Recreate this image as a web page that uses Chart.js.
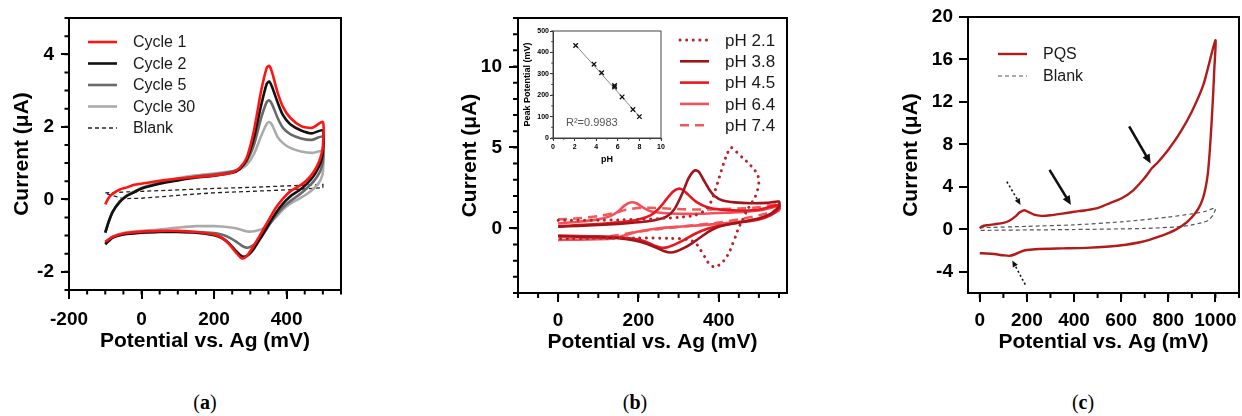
<!DOCTYPE html>
<html>
<head>
<meta charset="utf-8">
<script src="https://cdn.jsdelivr.net/npm/chart.js@4.4.1/dist/chart.umd.min.js"></script>
<style>
  body { margin: 0; background: #fff; }
  #fig { position: relative; width: 1242px; height: 416px; overflow: hidden; }
  canvas { position: absolute; }
  .tag { position: absolute; top: 391px; width: 40px; margin-left: -20px; text-align: center;
         font: 20px "Liberation Serif", "DejaVu Serif", serif; color: #000; }
</style>
</head>
<body>
<div id="fig">
  <canvas id="ca" width="420" height="360" style="left:0;top:0"></canvas>
  <canvas id="cb" width="400" height="360" style="left:420px;top:0"></canvas>
  <canvas id="cin" width="155" height="145" style="left:515px;top:25px"></canvas>
  <canvas id="cc" width="422" height="360" style="left:820px;top:0"></canvas>
  <div class="tag" style="left:205px">(<b>a</b>)</div>
  <div class="tag" style="left:635px">(<b>b</b>)</div>
  <div class="tag" style="left:1083px">(<b>c</b>)</div>
</div>
<script>
// ---- panel (a): cycles, shared potential sweep (forward then reverse)
const potA = [-100, -90, -80, -60, -40, -20, 0, 50, 100, 150, 200, 250, 270, 290, 310, 330, 345, 352, 360, 375, 390, 410, 440, 470, 500,
  500, 497, 490, 475, 455, 435, 410, 390, 370, 350, 330, 310, 295, 285, 275, 260, 240, 220, 200, 150, 100, 50, 0, -50, -80, -100];
const cycle1 = [-0.14, 0.05, 0.15, 0.27, 0.33, 0.4, 0.43, 0.51, 0.57, 0.62, 0.66, 0.74, 0.86, 1.15, 1.9, 3.0, 3.62, 3.68, 3.5, 2.95, 2.55, 2.25, 2.02, 1.97, 2.13,
  1.45, 1.28, 1.05, 0.76, 0.52, 0.37, 0.22, 0.02, -0.24, -0.58, -0.93, -1.27, -1.5, -1.61, -1.62, -1.46, -1.22, -1.05, -0.97, -0.9, -0.87, -0.87, -0.89, -0.94, -1.04, -1.17];
const cycle2 = [-0.92, -0.6, -0.35, -0.07, 0.1, 0.2, 0.3, 0.43, 0.52, 0.6, 0.65, 0.73, 0.83, 1.1, 1.7, 2.6, 3.18, 3.25, 3.1, 2.68, 2.32, 2.07, 1.9, 1.82, 1.9,
  1.3, 1.12, 0.92, 0.65, 0.42, 0.25, 0.08, -0.12, -0.38, -0.7, -1.04, -1.36, -1.53, -1.58, -1.56, -1.42, -1.2, -1.06, -0.99, -0.92, -0.9, -0.9, -0.92, -0.97, -1.06, -1.24];
const cycle5 = [-0.92, -0.6, -0.35, -0.07, 0.1, 0.2, 0.3, 0.45, 0.55, 0.63, 0.69, 0.77, 0.85, 1.05, 1.5, 2.25, 2.68, 2.73, 2.62, 2.25, 1.97, 1.8, 1.68, 1.64, 1.73,
  1.05, 0.9, 0.72, 0.5, 0.3, 0.13, -0.05, -0.22, -0.45, -0.74, -1.04, -1.25, -1.33, -1.32, -1.27, -1.16, -1.04, -0.97, -0.93, -0.9, -0.89, -0.89, -0.91, -0.96, -1.05, -1.22];
const cycle30 = [-0.9, -0.6, -0.35, -0.05, 0.12, 0.22, 0.32, 0.47, 0.58, 0.66, 0.71, 0.77, 0.82, 0.95, 1.25, 1.75, 2.08, 2.13, 2.05, 1.72, 1.55, 1.42, 1.32, 1.28, 1.32,
  0.75, 0.62, 0.47, 0.3, 0.14, 0.02, -0.12, -0.28, -0.5, -0.7, -0.83, -0.88, -0.89, -0.87, -0.84, -0.8, -0.77, -0.75, -0.74, -0.74, -0.78, -0.83, -0.87, -0.93, -1.03, -1.2];
const blankAE = [-100, 0, 100, 200, 300, 400, 500, 500, 400, 300, 200, 100, 0, -50, -100];
const blankAI = [0.18, 0.22, 0.26, 0.3, 0.33, 0.37, 0.41, 0.32, 0.26, 0.22, 0.18, 0.11, 0.03, 0.02, 0.16];

// ---- panel (b): pH series
const ph21E = [0, 50, 100, 150, 200, 250, 300, 340, 365, 380, 392, 402, 412, 421, 430, 445, 460, 475, 488, 497,
  500, 497, 490, 480, 468, 458, 449, 442, 434, 426, 416, 405, 390, 376, 366, 355, 342, 320, 280, 200, 100, 0];
const ph21I = [0.5, 0.5, 0.5, 0.52, 0.55, 0.6, 0.68, 0.8, 1.1, 1.6, 2.4, 3.2, 4.0, 4.6, 5.0, 4.7, 4.35, 4.0, 3.65, 3.3,
  2.9, 2.4, 1.9, 1.5, 1.0, 0.45, 0.0, -0.5, -1.0, -1.5, -1.9, -2.2, -2.4, -2.2, -1.8, -1.35, -0.9, -0.68, -0.62, -0.6, -0.62, -0.65];
const ph38E = [0, 50, 100, 150, 200, 240, 270, 290, 310, 325, 340, 350, 362, 375, 390, 410, 440, 480, 520, 550,
  550, 530, 500, 460, 420, 395, 375, 355, 335, 315, 295, 280, 265, 245, 220, 190, 150, 100, 50, 0];
const ph38I = [0.1, 0.15, 0.2, 0.27, 0.37, 0.5, 0.72, 1.2, 2.2, 3.1, 3.58, 3.5, 3.0, 2.45, 1.98, 1.72, 1.6, 1.55, 1.57, 1.65,
  1.35, 0.9, 0.6, 0.4, 0.22, 0.05, -0.2, -0.55, -0.9, -1.2, -1.42, -1.5, -1.42, -1.2, -0.95, -0.75, -0.62, -0.55, -0.52, -0.5];
const ph45E = [0, 50, 100, 150, 200, 230, 250, 270, 285, 300, 312, 325, 345, 370, 400, 450, 500, 550,
  550, 530, 500, 450, 400, 370, 340, 315, 295, 275, 258, 242, 225, 200, 150, 100, 50, 0];
const ph45I = [0.12, 0.2, 0.27, 0.37, 0.55, 0.8, 1.2, 1.8, 2.25, 2.45, 2.35, 2.05, 1.62, 1.32, 1.17, 1.1, 1.15, 1.45,
  1.2, 0.82, 0.55, 0.35, 0.15, -0.05, -0.35, -0.7, -0.95, -1.15, -1.2, -1.1, -0.9, -0.7, -0.55, -0.5, -0.48, -0.45];
const ph64E = [0, 50, 100, 130, 150, 165, 180, 195, 210, 230, 260, 300, 350, 400, 450, 500, 550,
  550, 500, 450, 400, 350, 300, 250, 200, 170, 150, 130, 100, 50, 0];
const ph64I = [0.3, 0.4, 0.55, 0.75, 1.05, 1.4, 1.6, 1.55, 1.3, 1.05, 0.95, 0.9, 0.9, 0.95, 1.0, 1.1, 1.35,
  1.1, 0.6, 0.4, 0.28, 0.18, 0.1, 0.0, -0.2, -0.4, -0.55, -0.65, -0.68, -0.7, -0.72];
const ph74E = [0, 50, 100, 140, 170, 200, 230, 270, 320, 380, 450, 500, 550,
  550, 500, 450, 400, 350, 300, 250, 200, 150, 100, 50, 0];
const ph74I = [0.55, 0.62, 0.75, 0.95, 1.15, 1.25, 1.27, 1.22, 1.17, 1.17, 1.22, 1.3, 1.5,
  1.2, 0.8, 0.55, 0.35, 0.22, 0.08, -0.05, -0.2, -0.42, -0.58, -0.67, -0.72];

// inset: peak potential vs pH
const insetPH = [2.1, 3.8, 4.5, 5.7, 5.7, 6.4, 7.4, 8.0];
const insetPeak = [432, 345, 305, 245, 238, 192, 133, 100];
const fitPH = [2.1, 8.0];
const fitPeak = [434, 101];

// ---- panel (c): PQS
const pqsE = [0, 10, 30, 60, 100, 125, 150, 170, 188, 205, 230, 260, 300, 350, 400, 450, 500, 550, 600, 650, 700, 730, 755, 800, 850, 900, 950, 1000,
  995, 990, 983, 976, 968, 958, 945, 930, 910, 887, 860, 830, 800, 760, 720, 680, 620, 550, 450, 350, 250, 200, 175, 150, 125, 100, 50, 0];
const pqsI = [0.1, 0.28, 0.38, 0.47, 0.6, 0.8, 1.2, 1.6, 1.8, 1.65, 1.38, 1.27, 1.32, 1.48, 1.65, 1.8, 2.0, 2.45, 2.9, 3.65, 4.85, 5.75, 6.3, 7.5, 9.1, 11.1, 13.7, 17.8,
  15.0, 12.6, 9.8, 7.4, 5.3, 3.9, 2.8, 2.05, 1.4, 0.85, 0.35, -0.05, -0.35, -0.7, -1.0, -1.22, -1.45, -1.62, -1.75, -1.8, -1.85, -1.95, -2.1, -2.35, -2.5, -2.45, -2.3, -2.25];
const blankCE = [0, 200, 400, 600, 800, 900, 950, 1000, 990, 970, 940, 900, 850, 700, 400, 0];
const blankCI = [0.15, 0.28, 0.42, 0.7, 1.15, 1.45, 1.65, 2.0, 1.35, 0.85, 0.6, 0.42, 0.25, 0.08, -0.02, -0.1];
// arrows (start / end in mV, µA)
const arrowFromE = [115, 296, 634, 193];
const arrowFromI = [4.48, 5.6, 9.7, -5.2];
const arrowToE = [173, 387, 725, 138];
const arrowToI = [2.3, 2.3, 6.2, -2.93];
const arrowDotted = [true, false, false, true];

Chart.defaults.font.family = '"Liberation Sans", Arial, sans-serif';
Chart.defaults.color = '#000';

const pts = (E, I) => E.map((e, k) => ({ x: e, y: I[k] }));

function line(label, E, I, color, width, extra) {
  return Object.assign({
    label, data: pts(E, I), showLine: true, borderColor: color, backgroundColor: color,
    borderWidth: width, pointRadius: 0, tension: 0.25, fill: false
  }, extra || {});
}

function axis(o) {
  return {
    type: 'linear', min: o.min, max: o.max,
    ticks: { stepSize: o.step, includeBounds: false, padding: o.pad, maxRotation: 0, autoSkip: false,
             font: { size: o.fs, weight: 'bold' }, color: '#000', callback: v => String(v) },
    grid: { drawOnChartArea: false, drawTicks: true, tickLength: o.tick, color: o.col || '#000', lineWidth: o.lw || 2 },
    border: { display: true, color: o.col || '#000', width: o.lw || 2 },
    title: { display: true, text: o.title, color: '#000', font: { size: o.tfs, weight: 'bold' },
             padding: { top: o.tpad, bottom: o.tpad } },
    afterFit: s => {
      if (o.h) s.height = o.h;
      if (o.w) s.width = o.w;
      s.paddingLeft = 0; s.paddingRight = 0; s.paddingTop = 0; s.paddingBottom = 0;
    }
  };
}

// box frame + minor ticks
const frame = {
  id: 'frame',
  afterDraw(chart, args, opts) {
    const { ctx, chartArea: a, scales: { x, y } } = chart;
    ctx.save();
    ctx.strokeStyle = opts.color;
    ctx.lineWidth = opts.width;
    ctx.strokeRect(a.left, a.top, a.right - a.left, a.bottom - a.top);
    ctx.beginPath();
    if (opts.xMinor) {
      for (let k = Math.ceil(x.min / opts.xMinor); k * opts.xMinor <= x.max + 1e-9; k++) {
        const px = x.getPixelForValue(k * opts.xMinor);
        ctx.moveTo(px, a.bottom); ctx.lineTo(px, a.bottom + opts.len);
      }
    }
    if (opts.yMinor) {
      for (let k = Math.ceil(y.min / opts.yMinor); k * opts.yMinor <= y.max + 1e-9; k++) {
        const py = y.getPixelForValue(k * opts.yMinor);
        ctx.moveTo(a.left, py); ctx.lineTo(a.left - opts.len, py);
      }
    }
    ctx.stroke();
    ctx.restore();
  }
};

// legend drawn inside the plot box
const inLegend = {
  id: 'inLegend',
  afterDatasetsDraw(chart, args, opts) {
    const { ctx, chartArea: a } = chart;
    ctx.save();
    ctx.font = opts.font;
    ctx.textBaseline = 'middle';
    chart.data.datasets.forEach((ds, i) => {
      const y = a.top + opts.top + i * opts.gap;
      const x = a.left + opts.left;
      ctx.strokeStyle = ds.borderColor;
      ctx.lineWidth = ds.borderWidth;
      ctx.lineCap = ds.borderCapStyle || 'butt';
      ctx.setLineDash(ds.borderDash || []);
      ctx.beginPath(); ctx.moveTo(x, y); ctx.lineTo(x + opts.lineLen, y); ctx.stroke();
      ctx.setLineDash([]);
      ctx.fillStyle = '#1a1a1a';
      ctx.fillText(ds.label, a.left + opts.textLeft, y + 1);
    });
    ctx.restore();
  }
};

const arrows = {
  id: 'arrows',
  afterDatasetsDraw(chart) {
    const { ctx, scales: { x, y } } = chart;
    arrowFromE.forEach((e, k) => {
      const x0 = x.getPixelForValue(e), y0 = y.getPixelForValue(arrowFromI[k]);
      const x1 = x.getPixelForValue(arrowToE[k]), y1 = y.getPixelForValue(arrowToI[k]);
      const dotted = arrowDotted[k];
      const ang = Math.atan2(y1 - y0, x1 - x0);
      const head = dotted ? 7 : 10;
      ctx.save();
      ctx.strokeStyle = '#111'; ctx.fillStyle = '#111';
      ctx.lineWidth = dotted ? 1.6 : 2.6;
      ctx.setLineDash(dotted ? [2, 2.5] : []);
      ctx.beginPath();
      ctx.moveTo(x0, y0);
      ctx.lineTo(x1 - Math.cos(ang) * head * 0.8, y1 - Math.sin(ang) * head * 0.8);
      ctx.stroke();
      ctx.setLineDash([]);
      ctx.beginPath();
      ctx.moveTo(x1, y1);
      ctx.lineTo(x1 - head * Math.cos(ang - 0.42), y1 - head * Math.sin(ang - 0.42));
      ctx.lineTo(x1 - head * Math.cos(ang + 0.42), y1 - head * Math.sin(ang + 0.42));
      ctx.closePath(); ctx.fill();
      ctx.restore();
    });
  }
};

const r2Label = {
  id: 'r2Label',
  afterDraw(chart) {
    const { ctx, chartArea: a } = chart;
    ctx.save();
    ctx.font = '11px "Liberation Sans", Arial, sans-serif';
    ctx.fillStyle = '#555';
    ctx.textBaseline = 'middle';
    ctx.fillText('R\u00b2=0.9983', a.left + 13, a.top + 92);
    ctx.restore();
  }
};

function baseOptions(pad, scales, plugins) {
  return {
    responsive: false, animation: false, events: [],
    layout: { padding: pad },
    plugins: Object.assign({ legend: { display: false }, tooltip: { enabled: false } }, plugins),
    scales
  };
}

// panel (a)
new Chart(document.getElementById('ca'), {
  type: 'scatter',
  data: { datasets: [
    line('Cycle 1', potA, cycle1, '#ff1414', 2.6),
    line('Cycle 2', potA, cycle2, '#111111', 2.6),
    line('Cycle 5', potA, cycle5, '#6a6a6a', 2.6),
    line('Cycle 30', potA, cycle30, '#ababab', 2.6),
    line('Blank', blankAE, blankAI, '#222222', 1.3, { borderDash: [4, 3], tension: 0 })
  ] },
  options: baseOptions({ left: 0, top: 18, right: 79, bottom: 0 }, {
    x: axis({ min: -200, max: 550, step: 200, h: 70, tick: 9, pad: 9, fs: 19, title: 'Potential vs. Ag (mV)', tfs: 21, tpad: 6 }),
    y: axis({ min: -2.5, max: 5, step: 2, w: 69, tick: 8, pad: 7, fs: 19, title: 'Current (\u03bcA)', tfs: 21, tpad: 9.5 })
  }, {
    frame: { color: '#000', width: 2, xMinor: 50, yMinor: 0.5, len: 4.5 },
    inLegend: { left: 19, lineLen: 29, textLeft: 64, top: 24, gap: 21.5, font: '16px "Liberation Sans", Arial, sans-serif' }
  }),
  plugins: [frame, inLegend]
});

// panel (b)
new Chart(document.getElementById('cb'), {
  type: 'scatter',
  data: { datasets: [
    line('pH 2.1', ph21E, ph21I, '#b7242a', 3, { borderDash: [0.1, 6.5], borderCapStyle: 'round' }),
    line('pH 3.8', ph38E, ph38I, '#a3141a', 2.6),
    line('pH 4.5', ph45E, ph45I, '#e8171f', 2.6),
    line('pH 6.4', ph64E, ph64I, '#f4505a', 2.6),
    line('pH 7.4', ph74E, ph74I, '#f25a5a', 2.6, { borderDash: [9, 6] })
  ] },
  options: baseOptions({ left: 0, top: 18, right: 33, bottom: 0 }, {
    x: axis({ min: -100, max: 570, step: 200, h: 67, tick: 9, pad: 7.6, fs: 19, title: 'Potential vs. Ag (mV)', tfs: 21, tpad: 5 }),
    y: axis({ min: -4, max: 13, step: 5, w: 98, tick: 9, pad: 7, fs: 19, title: 'Current (\u03bcA)', tfs: 21, tpad: 37.4 })
  }, {
    frame: { color: '#000', width: 2, xMinor: 50, yMinor: 1, len: 5 },
    inLegend: { left: 162, lineLen: 29, textLeft: 207, top: 22, gap: 21.3, font: '17px "Liberation Sans", Arial, sans-serif' }
  }),
  plugins: [frame, inLegend]
});

// inset
new Chart(document.getElementById('cin'), {
  type: 'scatter',
  data: { datasets: [
    { label: 'Peak', data: pts(insetPH, insetPeak), pointStyle: 'crossRot', pointRadius: 3.2, borderColor: '#111', borderWidth: 1.3, showLine: false },
    { label: 'Fit', data: pts(fitPH, fitPeak), showLine: true, borderColor: '#888', borderWidth: 1, pointRadius: 0 }
  ] },
  options: baseOptions({ left: 0, top: 6, right: 9, bottom: 0 }, {
    x: axis({ min: 0, max: 10, step: 2, h: 32, tick: 3, pad: 2, fs: 7, title: 'pH', tfs: 9, tpad: 5, lw: 1, col: '#333' }),
    y: axis({ min: 0, max: 500, step: 100, w: 38, tick: 3, pad: 1, fs: 7, title: 'Peak Potential (mV)', tfs: 9, tpad: 7, lw: 1, col: '#333' })
  }, {
    frame: { color: '#444', width: 1, xMinor: 1, yMinor: 50, len: 1.8 }
  }),
  plugins: [frame, r2Label]
});

// panel (c)
new Chart(document.getElementById('cc'), {
  type: 'scatter',
  data: { datasets: [
    line('PQS', pqsE, pqsI, '#b31b1b', 2.4, { tension: 0.2 }),
    line('Blank', blankCE, blankCI, '#555555', 1.2, { borderDash: [4, 3], tension: 0.2 })
  ] },
  options: baseOptions({ left: 0, top: 17, right: 3, bottom: 0 }, {
    x: axis({ min: -50, max: 1100, step: 200, h: 67, tick: 9, pad: 7, fs: 19, title: 'Potential vs. Ag (mV)', tfs: 21, tpad: 5 }),
    y: axis({ min: -6, max: 20, step: 4, w: 148, tick: 9, pad: 6, fs: 19, title: 'Current (\u03bcA)', tfs: 21, tpad: 78.4 })
  }, {
    frame: { color: '#000', width: 2, xMinor: 100, yMinor: 0, len: 5 },
    inLegend: { left: 30, lineLen: 29, textLeft: 75, top: 37, gap: 22, font: '16px "Liberation Sans", Arial, sans-serif' }
  }),
  plugins: [frame, inLegend, arrows]
});
</script>
</body>
</html>
